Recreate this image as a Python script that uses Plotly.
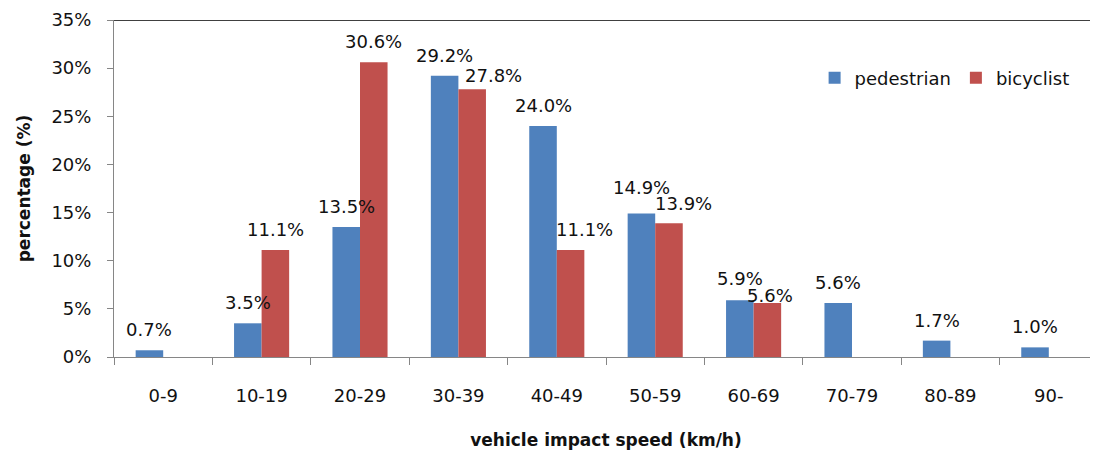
import plotly.graph_objects as go

categories = ["0-9", "10-19", "20-29", "30-39", "40-49", "50-59", "60-69", "70-79", "80-89", "90-"]
pedestrian = [0.7, 3.5, 13.5, 29.2, 24.0, 14.9, 5.9, 5.6, 1.7, 1.0]
bicyclist = [None, 11.1, 30.6, 27.8, 11.1, 13.9, 5.6, None, None, None]
y_ticks = [0, 5, 10, 15, 20, 25, 30, 35]

BLUE = "#4F81BD"
RED = "#C0504D"
AXIS = "#868686"
FONT = "DejaVu Sans"
TXT = "#111111"

# the page body adds an 8px margin, so the figure is drawn 8px smaller
W, H = 1090, 442
ML, MR, MT, MB = 106, 0, 12, 93
BARGAP = 0.44

# hand-placed label nudges as in the original (series, category) -> (dx px, dy px)
LABEL_NUDGE = {
    ("bicyclist", "30-39"): (21, -7),
    ("bicyclist", "40-49"): (14, 0),
    ("pedestrian", "50-59"): (0, 6),
    ("bicyclist", "50-59"): (15, -1),
    ("pedestrian", "60-69"): (0, 1),
    ("bicyclist", "60-69"): (3, -13),
}

fig = go.Figure()
fig.add_trace(go.Bar(name="pedestrian", x=categories, y=pedestrian, marker_color=BLUE,
                     marker_line_width=0))
fig.add_trace(go.Bar(name="bicyclist", x=categories, y=bicyclist, marker_color=RED,
                     marker_line_width=0))

# data labels centred above each bar
cat_px = (W - ML - MR) / len(categories)
bar_px = cat_px * (1 - BARGAP) / 2
annotations = []
for name, series, sign in (("pedestrian", pedestrian, -1), ("bicyclist", bicyclist, 1)):
    for c, v in zip(categories, series):
        if v is None:
            continue
        dx, dy = LABEL_NUDGE.get((name, c), (0, 0))
        annotations.append(dict(x=c, y=v, xref="x", yref="y", text=f"{v:.1f}%",
                                showarrow=False, yanchor="bottom", xanchor="center",
                                xshift=sign * bar_px / 2 + dx, yshift=9 + dy, borderpad=0,
                                font=dict(family=FONT, size=18, color=TXT)))

fig.update_layout(
    width=W, height=H,
    margin=dict(l=ML, r=MR, t=MT, b=MB, autoexpand=False),
    paper_bgcolor="white", plot_bgcolor="white",
    barmode="group", bargap=BARGAP, bargroupgap=0,
    font=dict(family=FONT, size=18, color=TXT),
    showlegend=True,
    legend=dict(orientation="h", x=0.712, y=0.828, xanchor="left", yanchor="middle",
                font=dict(family=FONT, size=18, color=TXT), bgcolor="rgba(0,0,0,0)",
                itemwidth=30, tracegroupgap=0),
    annotations=annotations,
    xaxis=dict(type="category", showline=True, linecolor=AXIS, linewidth=1,
               ticks="outside", tickson="boundaries", ticklen=7, tickcolor=AXIS,
               showgrid=False, zeroline=False, ticklabelstandoff=22,
               tickfont=dict(family=FONT, size=18, color=TXT),
               title=dict(text="<b>vehicle impact speed (km/h)</b>", standoff=32,
                          font=dict(family=FONT, size=17, color=TXT)),
               automargin=False),
    yaxis=dict(range=[0, 35], tickvals=y_ticks, ticktext=[f"{t}%" for t in y_ticks],
               showline=True, linecolor=AXIS, linewidth=1, ticks="outside", ticklen=6,
               tickcolor=AXIS, showgrid=False, zeroline=False, ticklabelstandoff=12,
               tickfont=dict(family=FONT, size=18, color=TXT),
               title=dict(text="<b>percentage (%)</b>", standoff=16,
                          font=dict(family=FONT, size=17, color=TXT)),
               automargin=False),
    shapes=[dict(type="line", xref="paper", yref="y", x0=0, x1=1, y0=35, y1=35,
                 line=dict(color="black", width=1.5))],
)

fig.write_html("out.html")
